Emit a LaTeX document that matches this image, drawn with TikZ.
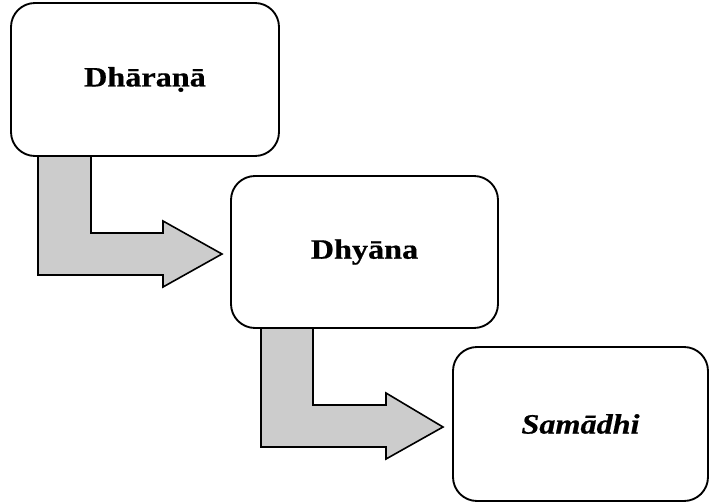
\documentclass[tikz,border=0pt]{standalone}
\usepackage{fontspec}
\setmainfont{Liberation Serif}
\newfontfamily\stagefont[FakeStretch=1.15,FakeBold=0.6]{Liberation Serif}
\usepackage{tikz}

\tikzset{
    stage/.style={draw, line width=1.4pt, rounded corners=18pt, fill=white, inner sep=0.75pt,
        font=\stagefont\fontsize{21}{25}\selectfont\bfseries},
    bentarrow/.style={draw, line width=1.2pt, fill=black!20, line join=miter}
}

\begin{document}
\begin{tikzpicture}[x=0.75pt,y=0.75pt,yscale=-1,xscale=1]

            \useasboundingbox (0,0) rectangle (710,503);

            % Bent arrows
            \draw [bentarrow] (38,156) -- (91,156) -- (91,233) -- (163,233) -- (163,221) -- (222,254) -- (163,287) -- (163,275) -- (38,275) -- cycle ;
            \draw [bentarrow] (261,328) -- (313,328) -- (313,405) -- (386,405) -- (386,393) -- (443,427) -- (386,459) -- (386,447) -- (261,447) -- cycle ;

            % Text Node
            \node (dharana) [stage, minimum width=201pt, minimum height=114.75pt] at (145,79.5) {Dhāraṇā};
            % Text Node
            \node (dhyana) [stage, minimum width=200.25pt, minimum height=114pt] at (364.5,252) {Dhyāna};
            % Text Node
            \node (samadhi) [stage, minimum width=191.25pt, minimum height=115.5pt] at (580.5,424) {\itshape Samādhi};

        \end{tikzpicture}
\end{document}
